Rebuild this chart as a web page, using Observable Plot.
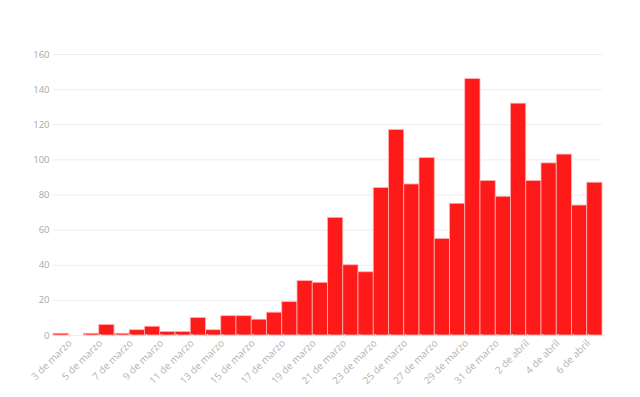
<!DOCTYPE html>
<html>
<head>
<meta charset="utf-8">
<script src="https://cdn.jsdelivr.net/npm/d3@7"></script>
<script src="https://cdn.jsdelivr.net/npm/@observablehq/plot@0.6"></script>
<style>
  html, body { margin: 0; padding: 0; background: #fff; }
  #chart svg { display: block; }
</style>
</head>
<body>
<div id="chart"></div>
<script>
const days = [
  "3 de marzo","4 de marzo","5 de marzo","6 de marzo","7 de marzo","8 de marzo",
  "9 de marzo","10 de marzo","11 de marzo","12 de marzo","13 de marzo","14 de marzo",
  "15 de marzo","16 de marzo","17 de marzo","18 de marzo","19 de marzo","20 de marzo",
  "21 de marzo","22 de marzo","23 de marzo","24 de marzo","25 de marzo","26 de marzo",
  "27 de marzo","28 de marzo","29 de marzo","30 de marzo","31 de marzo","1 de abril",
  "2 de abril","3 de abril","4 de abril","5 de abril","6 de abril","7 de abril"
];
const cases = [
  1, 0, 1, 6, 1, 3, 5, 2, 2, 10, 3, 11,
  11, 9, 13, 19, 31, 30, 67, 40, 36, 84, 117, 86,
  101, 55, 75, 146, 88, 79, 132, 88, 98, 103, 74, 87
];
const yTicks = [0, 20, 40, 60, 80, 100, 120, 140, 160];

const data = days.map((d, i) => ({day: d, cases: cases[i]}));
const labelled = new Set(days.filter((d, i) => i % 2 === 0));

const chart = Plot.plot({
  width: 640,
  height: 397,
  marginLeft: 53,
  marginRight: 38,
  marginTop: 54,
  marginBottom: 62,
  style: {fontFamily: "'Open Sans', sans-serif", fontSize: "9.5px", color: "#aaa", background: "#fff"},
  x: {domain: days, padding: 0, round: false, label: null},
  y: {domain: [0, 160], label: null},
  marks: [
    Plot.gridY(yTicks, {stroke: "#eee", strokeOpacity: 1}),
    Plot.barY(data, {x: "day", y: "cases", fill: "#ff1a1a", stroke: "#ffb3b3", strokeWidth: 0.8}),
    Plot.axisX({tickRotate: -45, tickSize: 3, tickPadding: 4, stroke: "#e4e4e4",
      tickFormat: d => labelled.has(d) ? d : "", fill: "#b4b4b4", fontSize: 10, dx: 9, dy: -1}),
    Plot.axisY(yTicks, {tickSize: 0, tickPadding: 4, fill: "#a8a8a8"})
  ]
});
document.getElementById("chart").appendChild(chart);
</script>
</body>
</html>
